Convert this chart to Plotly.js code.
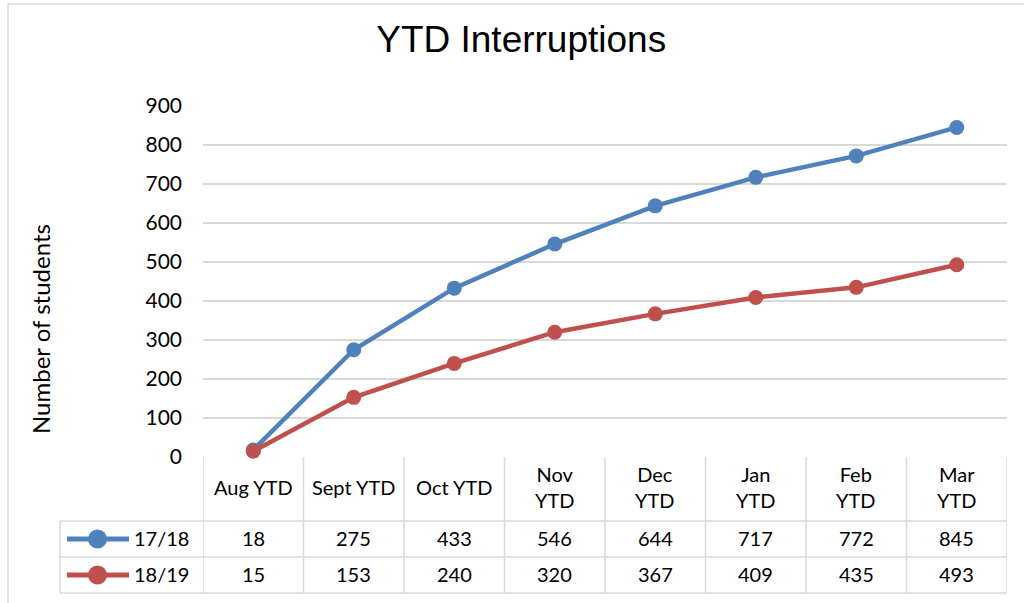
<!DOCTYPE html>
<html>
<head>
<meta charset="utf-8">
<script src="https://cdn.plot.ly/plotly-3.0.1.min.js"></script>
<style>
html,body{margin:0;padding:0;background:#fff;}
#chart{width:1024px;height:603px;}
</style>
</head>
<body>
<div id="chart"></div>
<script>
// ---- data ----
const categories = ["Aug YTD", "Sept YTD", "Oct YTD", "Nov YTD", "Dec YTD", "Jan YTD", "Feb YTD", "Mar YTD"];
const headerLabels = ["Aug YTD", "Sept YTD", "Oct YTD", "Nov<br>YTD", "Dec<br>YTD", "Jan<br>YTD", "Feb<br>YTD", "Mar<br>YTD"];
const seriesNames = ["17/18", "18/19"];
const values1718 = [18, 275, 433, 546, 644, 717, 772, 845];
const values1819 = [15, 153, 240, 320, 367, 409, 435, 493];
const yTickVals = [0, 100, 200, 300, 400, 500, 600, 700, 800, 900];
const yTitle = "Number of students";
const chartTitle = "YTD Interruptions";

// ---- styling ----
const BLUE = "#4f81bd", RED = "#c0504d", GRID = "#d9d9d9";
const FONT = "Lato, 'Open Sans', sans-serif";
const W = 1024, H = 603;
const L = 203, R = 1007, T = 106, B = 457;
const px = p => (p - L) / (R - L);
const py = p => (B - p) / (B - T);

const idx = categories.map((c, i) => i);
const series = [values1718, values1819];
const colors = [BLUE, RED];

const traces = series.map((vals, s) => ({
  type: "scatter", mode: "lines+markers",
  x: idx, y: vals, name: seriesNames[s],
  line: {color: colors[s], width: 4.5},
  marker: {color: colors[s], size: 15, symbol: "circle"},
  hoverinfo: "y", cliponaxis: false
}));

const shapes = [];
const annotations = [];

// chart outer frame
shapes.push({type: "line", xref: "paper", yref: "paper", x0: px(8), x1: px(1030), y0: py(4), y1: py(4), line: {color: GRID, width: 1.5}});
shapes.push({type: "line", xref: "paper", yref: "paper", x0: px(8), x1: px(8), y0: py(4), y1: py(610), line: {color: GRID, width: 1.5}});

// table grid
const rowTop = 457, rowHeaderBottom = 521, row1Bottom = 557, row2Bottom = 593, tableLeft = 60;
for (let k = 0; k <= categories.length; k++) {
  shapes.push({type: "line", xref: "x", yref: "paper", x0: k - 0.5, x1: k - 0.5, y0: py(rowTop), y1: py(row2Bottom), line: {color: GRID, width: 1.5}});
}
shapes.push({type: "line", xref: "paper", yref: "paper", x0: px(tableLeft), x1: px(tableLeft), y0: py(rowHeaderBottom), y1: py(row2Bottom), line: {color: GRID, width: 1.5}});
[rowHeaderBottom, row1Bottom, row2Bottom].forEach(yy => {
  shapes.push({type: "line", xref: "paper", yref: "paper", x0: px(tableLeft), x1: 1, y0: py(yy), y1: py(yy), line: {color: GRID, width: 1.5}});
});

// header labels
headerLabels.forEach((lab, i) => {
  annotations.push({xref: "x", yref: "paper", x: i, y: py(487), text: lab, showarrow: false,
    font: {family: FONT, size: 20, color: "#000"}, xanchor: "center", yanchor: "middle", align: "center"});
});

// rows
const rowCenters = [538, 574];
series.forEach((vals, s) => {
  const yc = py(rowCenters[s]);
  vals.forEach((v, i) => {
    annotations.push({xref: "x", yref: "paper", x: i, y: yc, text: String(v), showarrow: false,
      font: {family: FONT, size: 20, color: "#000"}, xanchor: "center", yanchor: "middle"});
  });
  // legend key
  const kc = rowCenters[s] + 1;
  shapes.push({type: "line", xref: "paper", yref: "paper", x0: px(67), x1: px(129), y0: py(kc), y1: py(kc), line: {color: colors[s], width: 5}});
  shapes.push({type: "circle", xref: "paper", yref: "paper", x0: px(88), x1: px(107), y0: py(kc - 9.5), y1: py(kc + 9.5), fillcolor: colors[s], line: {color: colors[s], width: 0}});
  annotations.push({xref: "paper", yref: "paper", x: px(132), y: yc, text: seriesNames[s], showarrow: false,
    font: {family: FONT, size: 20, color: "#000"}, xanchor: "left", yanchor: "middle"});
});

// y-axis title (placed like the original, centred over plot + table header)
annotations.push({xref: "paper", yref: "paper", x: px(40), y: py(329), text: yTitle, textangle: -90, showarrow: false,
  font: {family: FONT, size: 24, color: "#000"}, xanchor: "center", yanchor: "middle"});

const layout = {
  width: W, height: H,
  margin: {l: L, r: W - R, t: T, b: H - B, pad: 0},
  paper_bgcolor: "#fff", plot_bgcolor: "#fff",
  showlegend: false,
  title: {text: chartTitle, font: {family: "'Liberation Sans', Arial, sans-serif", size: 37, color: "#000"},
          x: 0.509, xanchor: "center", y: 1 - 39 / H, yanchor: "middle"},
  xaxis: {type: "linear", range: [-0.5, categories.length - 0.5], showticklabels: false, showgrid: false,
          zeroline: false, showline: false, ticks: "", fixedrange: true},
  yaxis: {range: [0, 900], tickvals: yTickVals, ticktext: yTickVals.map(String), showgrid: true,
          gridcolor: GRID, gridwidth: 1.5, zeroline: false, showline: false, ticks: "",
          ticklabelstandoff: 20, tickfont: {family: FONT, size: 21, color: "#000"},
          fixedrange: true},
  shapes: shapes,
  annotations: annotations,
  hovermode: false
};

Plotly.newPlot("chart", traces, layout, {displayModeBar: false, staticPlot: true});
</script>
</body>
</html>
